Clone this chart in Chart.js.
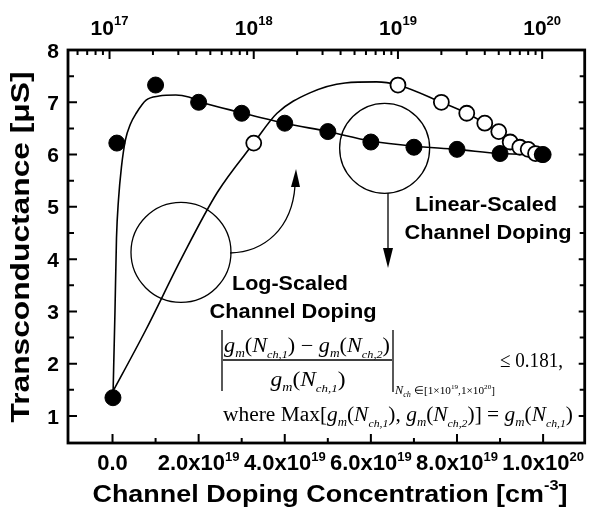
<!DOCTYPE html>
<html><head><meta charset="utf-8">
<script src="https://cdn.jsdelivr.net/npm/chart.js@4/dist/chart.umd.min.js"></script>
<style>html,body{margin:0;padding:0;background:#fff;}canvas{display:block;}</style>
</head><body>
<canvas id="c" width="594" height="515"></canvas>
<script>
// ---- data ----
const doping = [1e17, 1e18, 1e19, 2e19, 3e19, 4e19, 5e19, 6e19, 7e19, 8e19, 9e19, 1e20];
const gm     = [1.35, 6.22, 7.33, 7.0, 6.79, 6.6, 6.44, 6.24, 6.14, 6.1, 6.02, 6.0];
// guide curve drawn against the linear (bottom) axis
const linFitDoping = [1e17, 5.7e17, 9.2e17, 1.38e18, 2.07e18, 3.0e18, 4.14e18, 5.5e18, 7.8e18, 1.08e19, 1.47e19, 1.77e19, 2e19, 3e19, 4e19, 5e19, 6e19, 7e19, 8e19, 9e19, 1e20];
const linFitGm     = [1.35, 3.0, 4.4, 5.13, 5.76, 6.28, 6.58, 6.79, 7.04, 7.12, 7.14, 7.1, 7.02, 6.8, 6.6, 6.44, 6.26, 6.16, 6.1, 6.02, 6.0];
// guide curve drawn against the logarithmic (top) axis
const logFitDoping = [1e17, 1.78e17, 3.16e17, 5.6e17, 1e18, 1.45e18, 2.45e18, 4.3e18, 7.1e18, 1e19, 2e19, 3e19, 4e19, 5e19, 6e19, 7e19, 8e19, 9e19, 1e20];
const logFitGm     = [1.35, 2.64, 4.02, 5.28, 6.22, 6.79, 7.18, 7.37, 7.39, 7.33, 7.0, 6.79, 6.6, 6.44, 6.24, 6.14, 6.1, 6.02, 6.0];
// ticks
const yMajorTicks = [1, 2, 3, 4, 5, 6, 7, 8];
const yMinorTicks = [1.5, 2.5, 3.5, 4.5, 5.5, 6.5, 7.5];
const bottomTicks = [0, 2e19, 4e19, 6e19, 8e19, 1e20];
const bottomMinorTicks = [1e19, 3e19, 5e19, 7e19, 9e19];
const bottomTickLabels = [['0.0', ''], ['2.0x10', '19'], ['4.0x10', '19'], ['6.0x10', '19'], ['8.0x10', '19'], ['1.0x10', '20']];
const topTicks = [1e17, 1e18, 1e19, 1e20];
const topTickLabels = [['10', '17'], ['10', '18'], ['10', '19'], ['10', '20']];
const yTitle = 'Transconductance [\u03bcS]';
const xTitle = ['Channel Doping Concentration [cm', '-3', ']'];

const SANS = s => `bold ${s}px "Liberation Sans", Arial, sans-serif`;
const SER = s => `${s}px "Liberation Serif", "Times New Roman", serif`;
const SERI = s => `italic ${s}px "Liberation Serif", "Times New Roman", serif`;

function drawRuns(ctx, runs, x, y, align, targetW) {
  let W = 0; const ws = [];
  for (const r of runs) { ctx.font = r.f; const w = ctx.measureText(r.t).width; ws.push(w); W += w; }
  const sx = targetW ? targetW / W : 1;
  const x0 = align === 'center' ? x - W * sx / 2 : align === 'right' ? x - W * sx : x;
  ctx.save(); ctx.translate(x0, y); ctx.scale(sx, 1);
  ctx.textAlign = 'left'; ctx.textBaseline = 'alphabetic'; ctx.fillStyle = '#000';
  let cx = 0;
  runs.forEach((r, i) => { ctx.font = r.f; ctx.fillText(r.t, cx, r.dy || 0); cx += ws[i]; });
  ctx.restore();
}
function gmRuns(sub, s) {
  return [
    { t: 'g', f: SERI(s) }, { t: 'm', f: SERI(s * 0.6), dy: s * 0.25 },
    { t: '(', f: SER(s) }, { t: 'N', f: SERI(s) }, { t: sub, f: SERI(s * 0.55), dy: s * 0.3 },
    { t: ')', f: SER(s) }
  ];
}

const decor = {
  id: 'decor',
  afterDraw(chart) {
    const ctx = chart.ctx, a = chart.chartArea;
    const X = chart.scales.x, X2 = chart.scales.x2, Y = chart.scales.y;
    ctx.save();
    ctx.strokeStyle = '#000'; ctx.fillStyle = '#000';
    // ticks
    ctx.lineWidth = 2;
    ctx.beginPath();
    yMajorTicks.forEach(v => { const y = Y.getPixelForValue(v); ctx.moveTo(a.left, y); ctx.lineTo(a.left + 9, y); ctx.moveTo(a.right, y); ctx.lineTo(a.right - 6, y); });
    yMinorTicks.forEach(v => { const y = Y.getPixelForValue(v); ctx.moveTo(a.left, y); ctx.lineTo(a.left + 6, y); ctx.moveTo(a.right, y); ctx.lineTo(a.right - 5, y); });
    bottomTicks.forEach(v => { const x = X.getPixelForValue(v); ctx.moveTo(x, a.bottom); ctx.lineTo(x, a.bottom - 9); });
    bottomMinorTicks.forEach(v => { const x = X.getPixelForValue(v); ctx.moveTo(x, a.bottom); ctx.lineTo(x, a.bottom - 5); });
    for (let e = 16; e <= 20; e++) {
      for (let m = 1; m <= 9; m++) {
        const v = m * Math.pow(10, e);
        if (v < X2.min || v > X2.max) continue;
        const x = X2.getPixelForValue(v);
        ctx.moveTo(x, a.top); ctx.lineTo(x, a.top + (m === 1 ? 9 : 5));
      }
    }
    ctx.stroke();
    // frame
    ctx.lineWidth = 2.8;
    ctx.strokeRect(a.left, a.top, a.right - a.left, a.bottom - a.top);

    // y tick labels
    yMajorTicks.forEach(v => drawRuns(ctx, [{ t: String(v), f: SANS(21) }], 59, Y.getPixelForValue(v) + 7.5, 'right'));
    // bottom tick labels
    bottomTicks.forEach((v, i) => {
      const lb = bottomTickLabels[i];
      const runs = [{ t: lb[0], f: SANS(22) }];
      if (lb[1]) runs.push({ t: lb[1], f: SANS(13), dy: -9 });
      drawRuns(ctx, runs, X.getPixelForValue(v), 470, 'center');
    });
    // top tick labels
    topTicks.forEach((v, i) => {
      const lb = topTickLabels[i];
      drawRuns(ctx, [{ t: lb[0], f: SANS(21) }, { t: lb[1], f: SANS(13), dy: -10 }], X2.getPixelForValue(v), 35, 'center');
    });
    // axis titles
    drawRuns(ctx, [{ t: xTitle[0], f: SANS(23) }, { t: xTitle[1], f: SANS(14), dy: -12 }, { t: xTitle[2], f: SANS(23) }], 330, 502, 'center', 475);
    ctx.save(); ctx.translate(29, 247); ctx.rotate(-Math.PI / 2);
    drawRuns(ctx, [{ t: yTitle, f: SANS(26) }], 0, 0, 'center', 351);
    ctx.restore();

    // highlight circles
    ctx.lineWidth = 1.3;
    ctx.beginPath(); ctx.arc(X.getPixelForValue(1.59e19), Y.getPixelForValue(4.13), 50, 0, Math.PI * 2); ctx.stroke();
    ctx.beginPath(); ctx.arc(X.getPixelForValue(6.32e19), Y.getPixelForValue(6.12), 45, 0, Math.PI * 2); ctx.stroke();
    // curved arrow
    ctx.beginPath(); ctx.moveTo(230, 253); ctx.bezierCurveTo(265, 252, 292, 228, 295, 186); ctx.stroke();
    ctx.beginPath(); ctx.moveTo(296, 169); ctx.lineTo(291, 187); ctx.lineTo(300, 187); ctx.closePath(); ctx.fill();
    // straight arrow
    ctx.beginPath(); ctx.moveTo(388, 193); ctx.lineTo(388, 252); ctx.stroke();
    ctx.beginPath(); ctx.moveTo(388, 268); ctx.lineTo(383, 248); ctx.lineTo(393, 248); ctx.closePath(); ctx.fill();

    // annotation labels
    drawRuns(ctx, [{ t: 'Linear-Scaled', f: SANS(20) }], 486, 211, 'center', 142);
    drawRuns(ctx, [{ t: 'Channel Doping', f: SANS(20) }], 488, 239, 'center', 167);
    drawRuns(ctx, [{ t: 'Log-Scaled', f: SANS(20) }], 290, 290, 'center', 116);
    drawRuns(ctx, [{ t: 'Channel Doping', f: SANS(20) }], 293, 318, 'center', 167);

    // formula
    ctx.lineWidth = 1.3;
    ctx.beginPath();
    ctx.moveTo(222, 330); ctx.lineTo(222, 391);
    ctx.moveTo(393, 330); ctx.lineTo(393, 392);
    ctx.moveTo(223, 360); ctx.lineTo(392, 360);
    ctx.stroke();
    const num = [...gmRuns('ch,1', 20), { t: ' \u2212 ', f: SER(20) }, ...gmRuns('ch,2', 20)];
    drawRuns(ctx, num, 224, 352, 'left', 166);
    drawRuns(ctx, gmRuns('ch,1', 20), 308, 386, 'center', 75);
    drawRuns(ctx, [
      { t: 'N', f: SERI(12) }, { t: 'ch', f: SERI(8), dy: 3 }, { t: ' \u2208[1\u00d710', f: SER(11) },
      { t: '19', f: SER(7), dy: -5 }, { t: ',1\u00d710', f: SER(11) }, { t: '20', f: SER(7), dy: -5 }, { t: ']', f: SER(11) }
    ], 395, 394, 'left', 100);
    drawRuns(ctx, [{ t: '\u2264 0.181,', f: SER(21) }], 500, 367, 'left', 63);
    drawRuns(ctx, [
      { t: 'where Max[', f: SER(20) }, ...gmRuns('ch,1', 20), { t: ', ', f: SER(20) }, ...gmRuns('ch,2', 20),
      { t: '] = ', f: SER(20) }, ...gmRuns('ch,1', 20)
    ], 223, 421, 'left', 350);
    ctx.restore();
  }
};

const pts = (xs, ys) => xs.map((x, i) => ({ x, y: ys[i] }));

new Chart(document.getElementById('c'), {
  type: 'scatter',
  data: {
    datasets: [
      { label: 'Linear-scaled', data: pts(doping, gm), xAxisID: 'x', yAxisID: 'y', pointRadius: 8, pointBackgroundColor: '#000', pointBorderColor: '#000', pointBorderWidth: 1, showLine: false, order: 1 },
      { label: 'Log-scaled', data: pts(doping.slice(1), gm.slice(1)), xAxisID: 'x2', yAxisID: 'y', pointRadius: 7.5, pointBackgroundColor: '#fff', pointBorderColor: '#000', pointBorderWidth: 1.8, showLine: false, order: 2 },
      { label: 'lin guide', data: pts(linFitDoping, linFitGm), xAxisID: 'x', yAxisID: 'y', pointRadius: 0, borderColor: '#000', borderWidth: 1.6, showLine: true, cubicInterpolationMode: 'monotone', order: 3 },
      { label: 'log guide', data: pts(logFitDoping, logFitGm), xAxisID: 'x2', yAxisID: 'y', pointRadius: 0, borderColor: '#000', borderWidth: 1.6, showLine: true, cubicInterpolationMode: 'monotone', order: 4 }
    ]
  },
  options: {
    responsive: false, animation: false, devicePixelRatio: 1,
    layout: { padding: { left: 68, right: 4, top: 50, bottom: 72 } },
    plugins: { legend: { display: false }, tooltip: { enabled: false } },
    scales: {
      x: { type: 'linear', min: -1.034e19, max: 1.0966e20, display: false },
      x2: { type: 'logarithmic', position: 'top', min: Math.pow(10, 16.712), max: Math.pow(10, 20.295), display: false },
      y: { type: 'linear', min: 0.4837, max: 8, display: false }
    }
  },
  plugins: [decor]
});
</script>
</body></html>
